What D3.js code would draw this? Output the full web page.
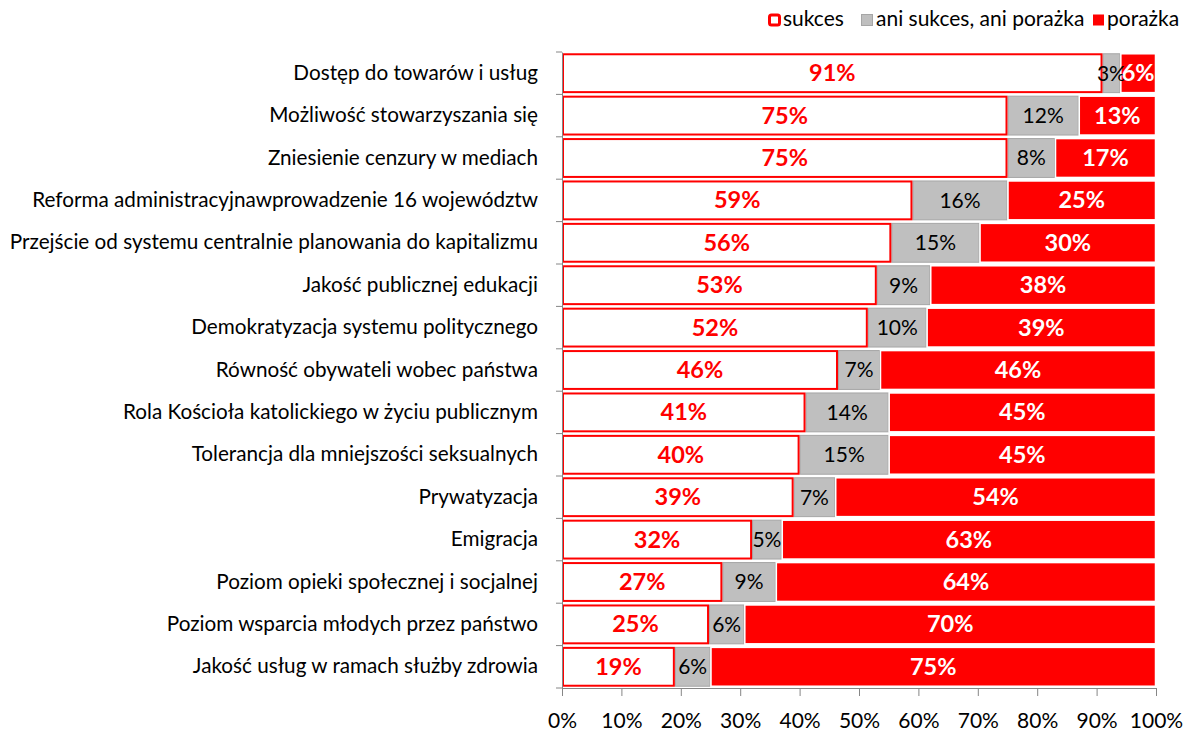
<!DOCTYPE html>
<html><head><meta charset="utf-8">
<script src="https://cdn.jsdelivr.net/npm/d3@7"></script>
<style>body{margin:0;background:#fff}svg{display:block;font-family:Lato,"Open Sans",sans-serif}</style>
</head><body><svg id="c" width="1186" height="731"></svg>
<script>
const categories = [
  "Dostęp do towarów i usług",
  "Możliwość stowarzyszania się",
  "Zniesienie cenzury w mediach",
  "Reforma administracyjnawprowadzenie 16 województw",
  "Przejście od systemu centralnie planowania do kapitalizmu",
  "Jakość publicznej edukacji",
  "Demokratyzacja systemu politycznego",
  "Równość obywateli wobec państwa",
  "Rola Kościoła katolickiego w życiu publicznym",
  "Tolerancja dla mniejszości seksualnych",
  "Prywatyzacja",
  "Emigracja",
  "Poziom opieki społecznej i socjalnej",
  "Poziom wsparcia młodych przez państwo",
  "Jakość usług w ramach służby zdrowia"
];
const sukces = [91,75,75,59,56,53,52,46,41,40,39,32,27,25,19];
const ani    = [3,12,8,16,15,9,10,7,14,15,7,5,9,6,6];
const porazka= [6,13,17,25,30,38,39,46,45,45,54,63,64,70,75];
const seriesNames = ["sukces","ani sukces, ani porażka","porażka"];
const keys = ["s","a","p"];
const xTicks = [0,0.1,0.2,0.3,0.4,0.5,0.6,0.7,0.8,0.9,1];

const rows = categories.map((c,i)=>({cat:c,s:sukces[i],a:ani[i],p:porazka[i]}));
const stack = d3.stack().keys(keys).offset(d3.stackOffsetExpand)(rows);

const svg = d3.select("#c");
const L=562, R=1156, T=52, B=688;
const x = d3.scaleLinear().domain([0,1]).range([L,R]);
const y = d3.scaleBand().domain(categories).range([T,B]).paddingInner(0.06).paddingOuter(0.03);

const fills = {s:"#ffffff", a:"#bfbfbf", p:"#ff0000"};
const strokes = {s:"#ff0000", a:"#a6a6a6", p:"#ffffff"};
const sw = {s:2, a:1, p:1.5};

const order = [1,2,0];
order.forEach(k=>{
  const layer = stack[k];
  const key = layer.key;
  svg.append("g").selectAll("rect").data(layer).join("rect")
    .attr("x",d=>x(d[0])+ (key==="s"?1:0.5))
    .attr("y",d=>y(d.data.cat)+ (key==="s"?1:0.5))
    .attr("width",d=>Math.max(0,x(d[1])-x(d[0])-(key==="s"?2:1)))
    .attr("height",y.bandwidth()-(key==="s"?2:1))
    .attr("fill",fills[key]).attr("stroke",strokes[key]).attr("stroke-width",sw[key]);
});

const lblStyle = {
  s:{fill:"#ff0000",weight:"bold",size:23.5},
  a:{fill:"#000000",weight:"normal",size:21},
  p:{fill:"#ffffff",weight:"bold",size:23.5}
};
stack.forEach(layer=>{
  const key=layer.key, st=lblStyle[key];
  svg.append("g").selectAll("text").data(layer).join("text")
    .attr("x",d=>(x(d[0])+x(d[1]))/2)
    .attr("y",d=>y(d.data.cat)+y.bandwidth()/2+2)
    .attr("text-anchor","middle").attr("dominant-baseline","middle")
    .attr("font-size",st.size).attr("font-weight",st.weight).attr("fill",st.fill)
    .text(d=>d.data[key]+"%");
});

const yAxis = svg.append("g").attr("transform",`translate(${L},0)`)
  .call(d3.axisLeft(y).tickSize(0).tickPadding(24));
yAxis.select(".domain").attr("stroke","#868686");
yAxis.selectAll("text").attr("font-size",20.7).attr("fill","#000").attr("font-family","Lato");
const bounds = d3.range(categories.length+1).map(i=>T+i*(B-T)/categories.length);
svg.append("g").selectAll("line").data(bounds).join("line")
  .attr("x1",L-6).attr("x2",L).attr("y1",d=>d).attr("y2",d=>d).attr("stroke","#868686");

const xAxis = svg.append("g").attr("transform",`translate(0,${B})`)
  .call(d3.axisBottom(x).tickValues(xTicks).tickFormat(d3.format(".0%")).tickSize(8).tickPadding(17).tickSizeOuter(0));
xAxis.select(".domain").attr("stroke","#868686");
xAxis.selectAll("line").attr("stroke","#868686");
xAxis.selectAll("text").attr("font-size",21).attr("fill","#000").attr("font-family","Lato");

const lg = svg.append("g");
const legendItems = [
  {name:seriesNames[0], x:768, fill:"#fff", stroke:"#ff0000", sw:3, s:13, tx:783},
  {name:seriesNames[1], x:861, fill:"#bfbfbf", stroke:"#a6a6a6", sw:1, s:12, tx:876},
  {name:seriesNames[2], x:1093, fill:"#ff0000", stroke:"none", sw:0, s:11, tx:1107}
];
legendItems.forEach(it=>{
  lg.append("rect").attr("x",it.x+it.sw/2).attr("y",20-it.s/2+it.sw/2)
    .attr("width",it.s-it.sw).attr("height",it.s-it.sw).attr("rx",it.sw>2?2:0)
    .attr("fill",it.fill).attr("stroke",it.stroke).attr("stroke-width",it.sw);
  lg.append("text").attr("x",it.tx).attr("y",21).attr("dominant-baseline","middle")
    .attr("font-size",21).attr("fill","#000").text(it.name);
});
</script></body></html>
